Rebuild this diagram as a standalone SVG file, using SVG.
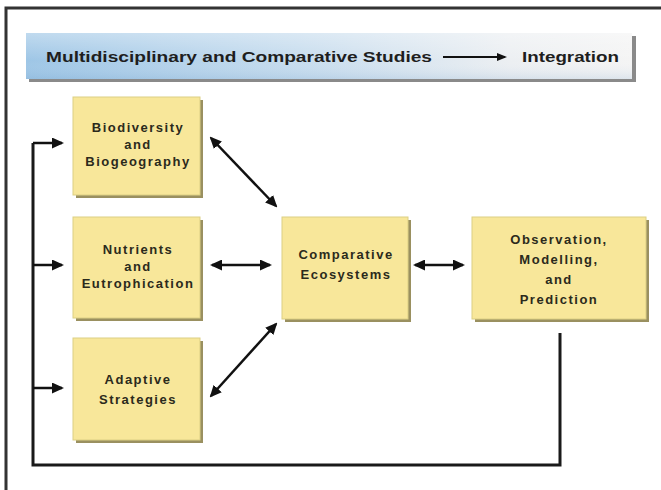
<svg xmlns="http://www.w3.org/2000/svg" width="661" height="490" viewBox="0 0 661 490">
<defs>
<linearGradient id="bh" x1="0" y1="0" x2="1" y2="0">
<stop offset="0" stop-color="#9ec6e6"/>
<stop offset="0.45" stop-color="#c6dcee"/>
<stop offset="0.8" stop-color="#eceff2"/>
<stop offset="1" stop-color="#f4f4f4"/>
</linearGradient>
<linearGradient id="bv" x1="0" y1="0" x2="0" y2="1">
<stop offset="0" stop-color="#ffffff" stop-opacity="0.35"/>
<stop offset="0.6" stop-color="#ffffff" stop-opacity="0"/>
<stop offset="1" stop-color="#5d8fc0" stop-opacity="0.15"/>
</linearGradient>
<marker id="ah" viewBox="0 0 12 11" markerWidth="12" markerHeight="11" refX="10" refY="5.5" orient="auto-start-reverse" markerUnits="userSpaceOnUse">
<path d="M0,0 L12,5.5 L0,11 z" fill="#111"/>
</marker>
<marker id="as" viewBox="0 0 10 8" markerWidth="10" markerHeight="8" refX="8" refY="4" orient="auto" markerUnits="userSpaceOnUse">
<path d="M0,0 L10,4 L0,8 z" fill="#111"/>
</marker>
</defs>
<style>
.sh{fill:#9a9060}
.bx{fill:#f8e79a;stroke:#dccf84;stroke-width:1}
.t{font-family:"Liberation Sans",Arial,sans-serif;font-weight:bold;font-size:13px;letter-spacing:1.5px;fill:#2b2a1c;text-anchor:middle}
.c{stroke:#111;stroke-width:2.5;fill:none}
.fb{stroke:#1a1a1a;stroke-width:3;fill:none}
</style>
<rect width="661" height="490" fill="#ffffff"/>
<path d="M6,490 V8 H661" fill="none" stroke="#333" stroke-width="3"/>
<g id="banner">
<rect x="29" y="36" width="607" height="46" fill="#8a8a8a"/>
<rect x="26" y="33" width="606" height="46" fill="url(#bh)"/>
<rect x="26" y="33" width="606" height="46" fill="url(#bv)"/>
<text x="46" y="62" font-family="'Liberation Sans',Arial,sans-serif" font-weight="bold" font-size="15" fill="#1e1e1e" textLength="386" lengthAdjust="spacingAndGlyphs">Multidisciplinary and Comparative Studies</text>
<line x1="443" y1="57" x2="505" y2="57" stroke="#111" stroke-width="2" marker-end="url(#as)"/>
<text x="522" y="62" font-family="'Liberation Sans',Arial,sans-serif" font-weight="bold" font-size="15" fill="#1e1e1e" textLength="97" lengthAdjust="spacingAndGlyphs">Integration</text>
</g>
<g id="biodiversity">
<rect class="sh" x="76" y="100" width="127" height="98"/>
<rect class="bx" x="73" y="97" width="127" height="98"/>
<text class="t" x="138" y="132">Biodiversity</text>
<text class="t" x="138" y="149">and</text>
<text class="t" x="138" y="166">Biogeography</text>
</g>
<g id="nutrients">
<rect class="sh" x="76" y="220" width="127" height="101"/>
<rect class="bx" x="73" y="217" width="127" height="101"/>
<text class="t" x="138" y="254">Nutrients</text>
<text class="t" x="138" y="271">and</text>
<text class="t" x="138" y="288">Eutrophication</text>
</g>
<g id="adaptive">
<rect class="sh" x="76" y="341" width="127" height="102"/>
<rect class="bx" x="73" y="338" width="127" height="102"/>
<text class="t" x="138" y="384">Adaptive</text>
<text class="t" x="138" y="404">Strategies</text>
</g>
<g id="comparative">
<rect class="sh" x="285" y="220" width="126" height="102"/>
<rect class="bx" x="282" y="217" width="126" height="102"/>
<text class="t" x="346" y="259">Comparative</text>
<text class="t" x="346" y="279">Ecosystems</text>
</g>
<g id="observation">
<rect class="sh" x="475" y="220" width="174" height="102"/>
<rect class="bx" x="472" y="217" width="174" height="102"/>
<text class="t" x="559" y="244">Observation,</text>
<text class="t" x="559" y="264">Modelling,</text>
<text class="t" x="559" y="284">and</text>
<text class="t" x="559" y="304">Prediction</text>
</g>
<g id="connectors">
<line class="c" x1="211" y1="138" x2="276" y2="206" marker-start="url(#ah)" marker-end="url(#ah)"/>
<line class="c" x1="212" y1="265" x2="270" y2="265" marker-start="url(#ah)" marker-end="url(#ah)"/>
<line class="c" x1="211" y1="396" x2="276" y2="324" marker-start="url(#ah)" marker-end="url(#ah)"/>
<line class="c" x1="415" y1="265" x2="463" y2="265" marker-start="url(#ah)" marker-end="url(#ah)"/>
<path class="fb" d="M560,333 V465 H33 V143"/>
<line class="c" x1="33" y1="143" x2="62" y2="143" marker-end="url(#ah)"/>
<line class="c" x1="33" y1="265" x2="62" y2="265" marker-end="url(#ah)"/>
<line class="c" x1="33" y1="388" x2="62" y2="388" marker-end="url(#ah)"/>
</g>
</svg>
